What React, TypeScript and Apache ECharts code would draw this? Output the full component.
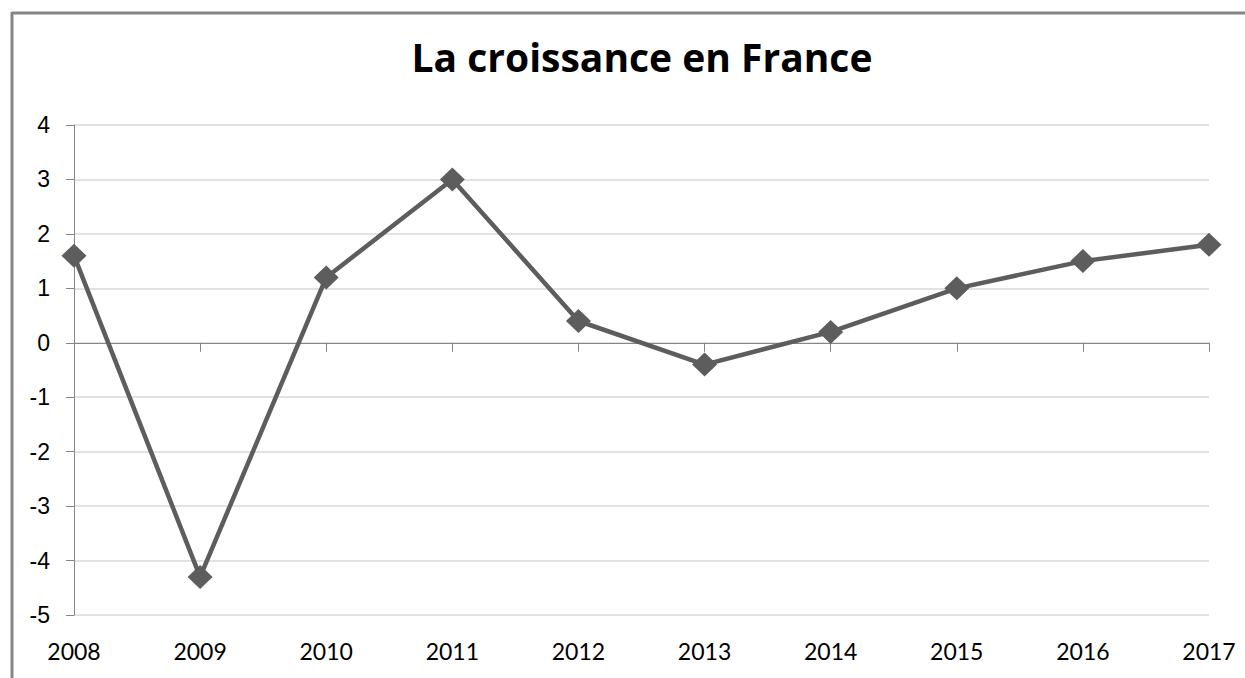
import React, { useEffect, useRef } from "react";
import * as echarts from "echarts";

const titleText = "La croissance en France";
const years = ["2008", "2009", "2010", "2011", "2012", "2013", "2014", "2015", "2016", "2017"];
const growth = [1.6, -4.3, 1.2, 3.0, 0.4, -0.4, 0.2, 1.0, 1.5, 1.8];
const yMin = -5;
const yMax = 4;
const yStep = 1;

export default function App() {
  const ref = useRef<HTMLDivElement>(null);
  useEffect(() => {
    document.body.style.margin = "0";
    const chart = echarts.init(ref.current!, null, { renderer: "svg" });
    chart.setOption({
      animation: false,
      backgroundColor: "#ffffff",
      title: {
        text: titleText,
        left: 637,
        textAlign: "center",
        top: 32,
        textStyle: { fontFamily: "Open Sans", fontWeight: "bold", fontSize: 39, color: "#000" },
      },
      graphic: [
        { type: "line", shape: { x1: 12, y1: 13, x2: 1245, y2: 13 }, style: { stroke: "#858585", lineWidth: 3 } },
        { type: "line", shape: { x1: 12, y1: 12, x2: 12, y2: 678 }, style: { stroke: "#858585", lineWidth: 3 } },
      ],
      grid: { left: 74, right: 36, top: 125, bottom: 63, containLabel: false },
      xAxis: [
        {
          type: "category",
          data: years,
          boundaryGap: false,
          position: "bottom",
          axisLine: { show: false, onZero: false },
          axisTick: { show: false },
          axisLabel: { fontFamily: "Lato", fontSize: 23, color: "#000", margin: 24 },
          splitLine: { show: false },
        },
        {
          type: "category",
          data: years,
          boundaryGap: false,
          position: "bottom",
          axisLine: { show: true, onZero: true, lineStyle: { color: "#868686", width: 1 } },
          axisTick: { show: true, length: 9, lineStyle: { color: "#868686" } },
          axisLabel: { show: false },
          splitLine: { show: false },
        },
      ],
      yAxis: {
        type: "value",
        min: yMin,
        max: yMax,
        interval: yStep,
        axisLine: { show: true, lineStyle: { color: "#868686", width: 1 } },
        axisTick: { show: true, length: 8, lineStyle: { color: "#868686" } },
        axisLabel: { fontFamily: "Liberation Sans", fontSize: 23, color: "#000", margin: 24 },
        splitLine: { show: true, lineStyle: { color: "#d9d9d9", width: 1.5 } },
      },
      series: [
        {
          type: "line",
          data: growth,
          xAxisIndex: 0,
          symbol: "diamond",
          symbolSize: [25, 24],
          lineStyle: { color: "#5d5d5d", width: 4.5 },
          itemStyle: { color: "#5d5d5d" },
        },
      ],
    });
    return () => chart.dispose();
  }, []);
  return <div ref={ref} style={{ width: 1245, height: 678 }} />;
}
